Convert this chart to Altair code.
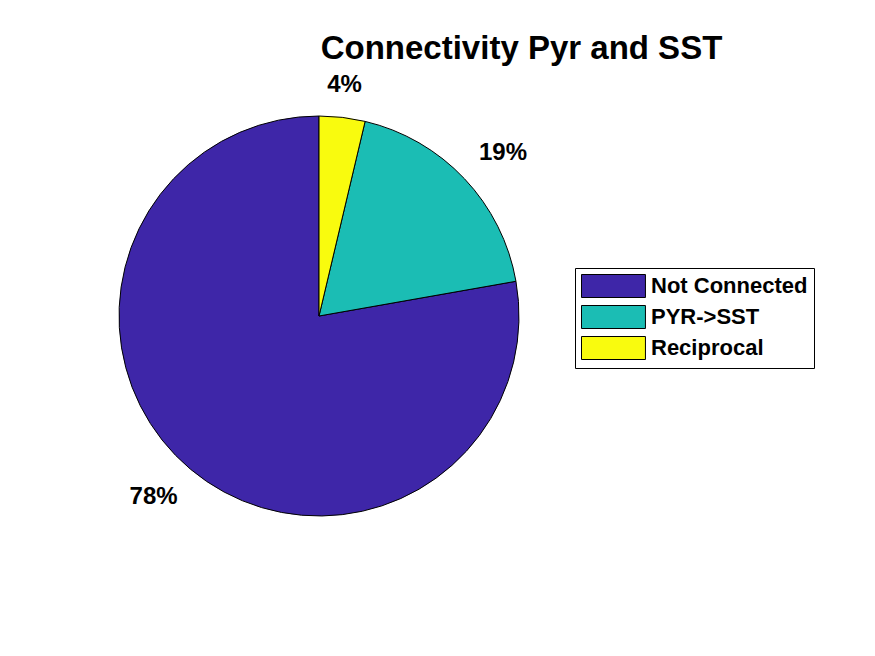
import altair as alt
import pandas as pd

categories = ["Not Connected", "PYR->SST", "Reciprocal"]
counts = [42, 10, 2]
labels = ["78%", "19%", "4%"]
draw_order = [3, 2, 1]
colors = ["#3E26A8", "#1BBDB4", "#F9FB0E"]

df = pd.DataFrame({"category": categories, "count": counts, "label": labels, "ord": draw_order})
TOTAL = float(sum(counts))

FONT = "Liberation Sans"
CX, CY, R = 319, 316, 200

pie = alt.Chart(df).mark_arc(radius=R, stroke="black", strokeWidth=1, x=CX, y=CY).encode(
    theta=alt.Theta("count:Q", stack=True),
    order=alt.Order("ord:Q", sort="ascending"),
    color=alt.Color(
        "category:N",
        scale=alt.Scale(domain=categories, range=colors),
        legend=alt.Legend(
            title=None,
            orient="none",
            legendX=575,
            legendY=268,
            symbolType="M-1,-1H4.56V1H-1Z",
            symbolSize=529,
            symbolStrokeColor="black",
            symbolStrokeWidth=1,
            labelFont=FONT,
            labelFontSize=22,
            labelFontWeight="bold",
            labelColor="black",
            labelOffset=46,
            rowPadding=3,
            padding=6,
            fillColor="white",
            strokeColor="black",
            cornerRadius=0,
            labelLimit=400,
        ),
    ),
)

stacked = alt.Chart(df).transform_window(
    cum="sum(count)", sort=[alt.SortField("ord", order="ascending")]
).transform_calculate(mid="datum.cum - datum.count / 2")

def label_layer(name, align, baseline):
    return stacked.transform_filter(alt.datum.label == name).mark_text(
        radius=R * 1.1, x=CX, y=CY, align=align, baseline=baseline,
        font=FONT, fontSize=24, fontWeight="bold", color="black",
    ).encode(
        theta=alt.Theta("mid:Q", scale=alt.Scale(domain=[0, TOTAL]), stack=None),
        text="label:N",
    )

t1 = label_layer("78%", "right", "top")
t2 = label_layer("19%", "left", "bottom")
t3 = label_layer("4%", "center", "bottom")

chart = alt.layer(pie, t1, t2, t3).properties(
    width=875,
    height=656,
    autosize=alt.AutoSizeParams(type="none"),
    padding=0,
    title=alt.TitleParams(
        "Connectivity Pyr and SST",
        font=FONT, fontSize=33, fontWeight="bold", color="black",
        anchor="middle", frame="group", offset=0, dx=84, dy=92, baseline="alphabetic",
    ),
).resolve_scale(theta="independent").configure_view(stroke=None).configure(background="white")

chart.save("out.html", embed_options={"renderer": "svg", "actions": False})
